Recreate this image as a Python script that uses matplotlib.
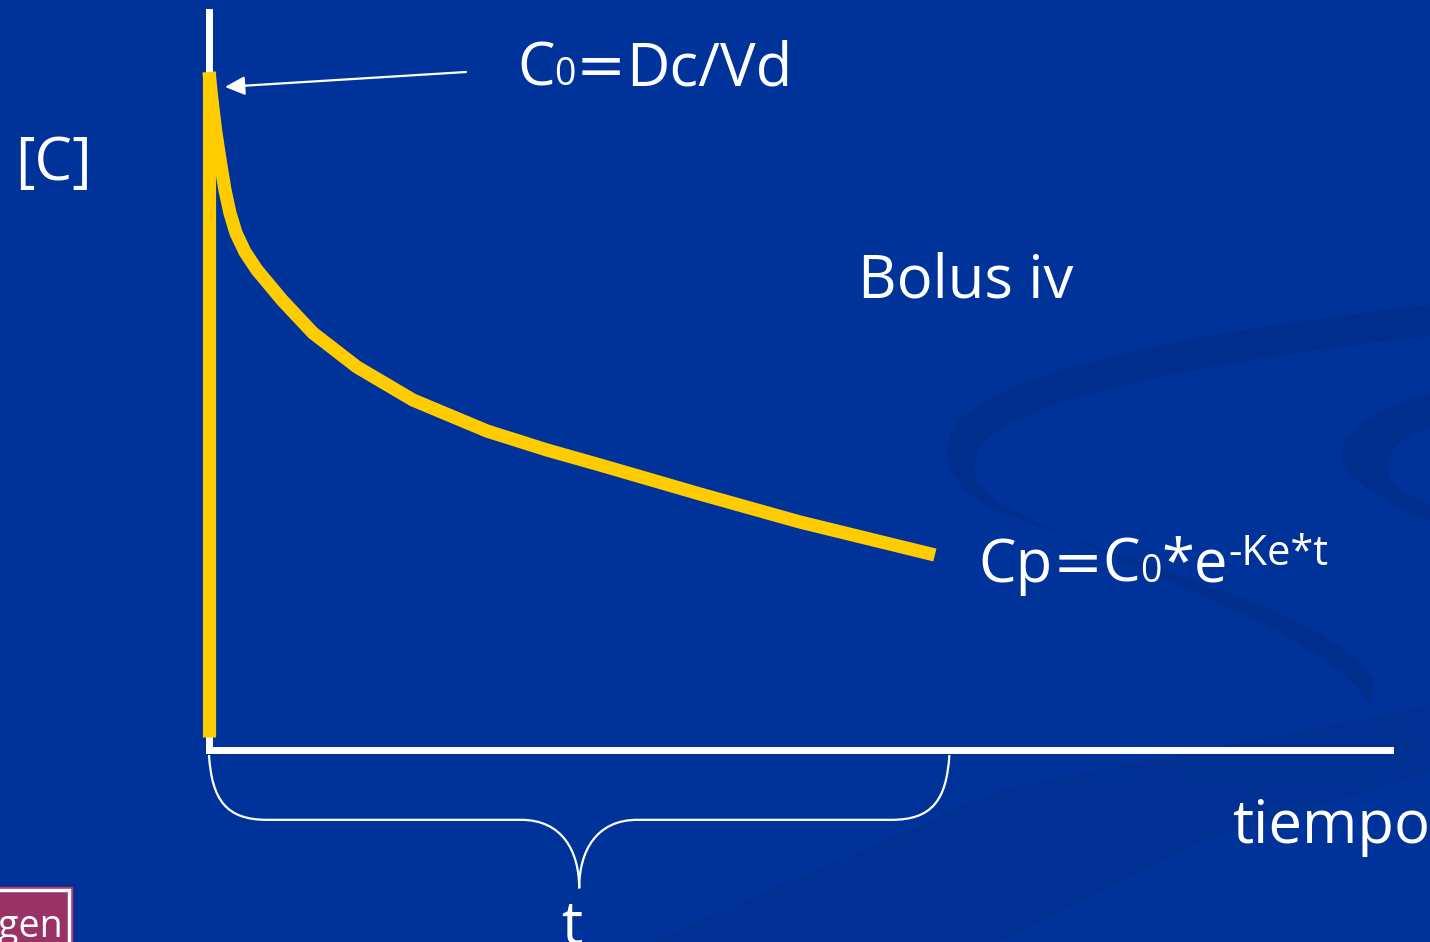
import matplotlib.pyplot as plt
from matplotlib.path import Path
from matplotlib.patches import PathPatch, Rectangle

# Concentración plasmática tras un bolo iv (unidades arbitrarias)
t_curve = [0, 0.041, 0.090, 0.152, 0.220, 0.289, 0.372, 0.496, 0.661,
           1.006, 1.433, 2.039, 2.810, 3.829, 4.656, 5.386, 6.763,
           8.140, 10.0]
c_curve = [100, 95.87, 91.45, 87.02, 82.60, 79.20, 76.25, 73.45, 70.80,
           66.37, 61.50, 56.49, 51.62, 47.05, 44.25, 42.04, 37.76,
           33.63, 28.76]
# subida instantánea del bolo
t_bolus = [0, 0]
c_bolus = [1.9, 100]
t_max = 16.27
c_max = 108.85
t_brace = [0, 10.2]

BG = '#003399'
SWIRL = '#002e8c'
YELLOW = '#ffcc00'
FONT = ['Open Sans', 'DejaVu Sans']
SYM = ['DejaVu Sans']

W, H = 1430, 942
fig = plt.figure(figsize=(W / 100, H / 100), dpi=100)
fig.patch.set_facecolor(BG)

# capa de fondo en píxeles (y hacia abajo)
bg = fig.add_axes([0, 0, 1, 1])
bg.set_xlim(0, W)
bg.set_ylim(H, 0)
bg.axis('off')

M, C4, L, CL = Path.MOVETO, Path.CURVE4, Path.LINETO, Path.CLOSEPOLY
ribbon = Path(
    [(1430, 305), (1200, 330), (1000, 370), (955, 425),
     (935, 455), (950, 490), (1000, 512),
     (1150, 570), (1330, 612), (1375, 680), (1370, 705),
     (1320, 628), (1150, 582), (1005, 506),
     (975, 490), (965, 462), (985, 442),
     (1030, 392), (1250, 356), (1430, 336), (1430, 305)],
    [M, C4, C4, C4, C4, C4, C4, C4, C4, C4, L,
     C4, C4, C4, C4, C4, C4, C4, C4, C4, CL])
bg.add_patch(PathPatch(ribbon, facecolor=SWIRL, edgecolor='none'))

crescent = Path(
    [(1430, 393), (1370, 410), (1335, 435), (1342, 462),
     (1350, 485), (1395, 505), (1430, 522),
     (1430, 505), (1400, 492), (1385, 480), (1388, 462),
     (1392, 445), (1410, 433), (1430, 428), (1430, 393)],
    [M, C4, C4, C4, C4, C4, C4, L, C4, C4, C4, C4, C4, C4, CL])
bg.add_patch(PathPatch(crescent, facecolor=SWIRL, edgecolor='none'))

band = Path([(650, 942), (1000, 790), (1430, 705), (1430, 772),
             (1200, 842), (1000, 942), (650, 942)],
            [M, L, L, L, L, L, CL])
bg.add_patch(PathPatch(band, facecolor=SWIRL, edgecolor='none', alpha=0.6))

# botón inferior izquierdo
bg.add_patch(Rectangle((-10, 887), 82, 70, facecolor='#993366',
                       edgecolor='#cc3366', lw=1))
bg.add_patch(Rectangle((-10, 890), 79, 70, facecolor='none',
                       edgecolor='white', lw=2.5))
bg.text(63, 937, 'Imagen', color='white', fontsize=27, family=FONT,
        ha='right', va='baseline')

# ejes de la gráfica
ax = fig.add_axes([209 / W, (H - 750) / H, (1390 - 209) / W, (750 - 12) / H])
ax.patch.set_alpha(0)
ax.set_xlim(0, t_max)
ax.set_ylim(0, c_max)
for side in ['top', 'right']:
    ax.spines[side].set_visible(False)
for side in ['left', 'bottom']:
    ax.spines[side].set_color('white')
    ax.spines[side].set_linewidth(5)
    ax.spines[side].set_capstyle('projecting')
ax.set_xticks([])
ax.set_yticks([])

ax.plot(t_bolus, c_bolus, color=YELLOW, lw=9.5, solid_capstyle='butt',
        clip_on=False, zorder=3)
ax.plot(t_curve, c_curve, color=YELLOW, lw=9.5, solid_capstyle='butt',
        solid_joinstyle='round', clip_on=False, zorder=3)

# flecha hacia C0
ax.annotate('', xy=(0.22, 97.8), xytext=(3.54, 100),
            arrowprops=dict(arrowstyle='-|>,head_length=0.8,head_width=0.38',
                            mutation_scale=15, color='white', lw=1.6,
                            shrinkA=0, shrinkB=0),
            annotation_clip=False, zorder=4)


def brace(ax, x0, x1, y0, y1, y2, r):
    xm = (x0 + x1) / 2
    yk = y0 + (y1 - y0) * 0.7
    ym = y1 + (y2 - y1) * 0.45
    verts = [(x0, y0),
             (x0 + 0.05 * r, yk), (x0 + 0.3 * r, y1), (x0 + r, y1),
             (xm - r, y1),
             (xm - 0.3 * r, y1), (xm, ym), (xm, y2),
             (xm, ym), (xm + 0.3 * r, y1), (xm + r, y1),
             (x1 - r, y1),
             (x1 - 0.3 * r, y1), (x1 - 0.05 * r, yk), (x1, y0)]
    codes = [M, C4, C4, C4, L, C4, C4, C4, C4, C4, C4, L, C4, C4, C4]
    ax.add_patch(PathPatch(Path(verts, codes), facecolor='none',
                           edgecolor='white', lw=1.6, clip_on=False))


brace(ax, t_brace[0], t_brace[1], -0.74, -10.3, -20.4, 0.8)


def rich(x, y, pieces):
    # texto con trozos de distinto tamaño alineados por la línea base
    r = fig.canvas.get_renderer()
    for s, size, dy, fam in pieces:
        txt = bg.text(x, y + dy, s, color='white', fontsize=size,
                      family=fam, ha='left', va='baseline')
        x += txt.get_window_extent(r).width


big = 43
rich(15, 180, [('[C]', big, 0, FONT)])
rich(517, 85, [('C', big, 0, FONT), ('0', 27, 0, FONT),
               ('=', big, 0, SYM), ('Dc/Vd', big, 0, FONT)])
rich(858, 298, [('Bolus iv', big, 0, FONT)])
rich(978, 582, [('Cp', big, 0, FONT), ('=', big, 0, SYM),
                ('C', big, 0, FONT), ('0', 27, 0, FONT),
                ('*e', big, 0, FONT), ('-Ke*t', 30, -17, FONT)])
rich(1232, 843, [('tiempo', big, 0, FONT)])
bg.text(572, 944, 't', color='white', fontsize=big, family=FONT,
        ha='center', va='baseline')

fig.savefig('out.png', dpi=100, facecolor=BG)
